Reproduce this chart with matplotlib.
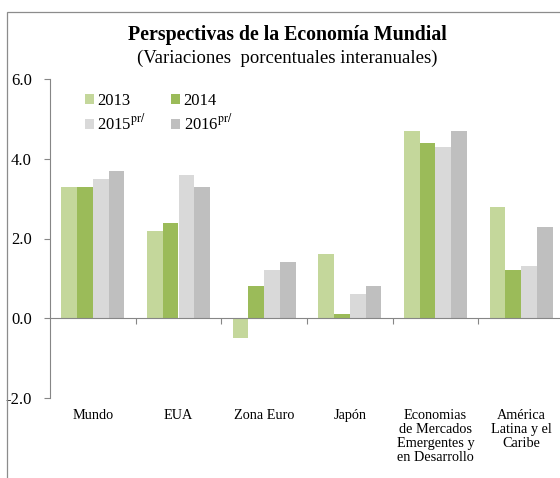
import numpy as np
import matplotlib
matplotlib.use("Agg")
import matplotlib.pyplot as plt
from matplotlib.patches import Rectangle

# === DATA ===
categories = ["Mundo", "EUA", "Zona Euro", "Japón",
              "Economias\nde Mercados\nEmergentes y\nen Desarrollo",
              "América\nLatina y el\nCaribe"]
series_names = ["2013", "2014", "2015$^{\\mathrm{pr/}}$", "2016$^{\\mathrm{pr/}}$"]
vals_2013 = [3.3, 2.2, -0.5, 1.6, 4.7, 2.8]
vals_2014 = [3.3, 2.4, 0.8, 0.1, 4.4, 1.2]
vals_2015 = [3.5, 3.6, 1.2, 0.6, 4.3, 1.3]
vals_2016 = [3.7, 3.3, 1.4, 0.8, 4.7, 2.3]
yticks = [-2.0, 0.0, 2.0, 4.0, 6.0]

# === STYLE ===
plt.rcParams["font.family"] = ["Liberation Serif", "DejaVu Serif"]
plt.rcParams["mathtext.fontset"] = "stix"
colors = ["#C4D79B", "#9BBB59", "#D9D9D9", "#BFBFBF"]
axis_gray = "#868686"

fig = plt.figure(figsize=(5.6, 4.78), dpi=100)

# outer frame (cut off at right and bottom like the original)
fig.patches.append(Rectangle((7 / 560, -0.1), 1.2, 1.1 - 12 / 478,
                             transform=fig.transFigure, fill=False,
                             edgecolor="#8c8c8c", linewidth=0.9))

ax = fig.add_axes([50 / 560, 1 - 398 / 478, 514 / 560, 319 / 478])

x = np.arange(len(categories))
w = 0.184
all_vals = [vals_2013, vals_2014, vals_2015, vals_2016]
bars = []
for i, (vals, name, c) in enumerate(zip(all_vals, series_names, colors)):
    bars.append(ax.bar(x + (i - 1.5) * w, vals, width=w, color=c,
                       label=name, linewidth=0))

ax.set_xlim(-0.5, len(categories) - 0.5)
ax.set_ylim(-2, 6)
ax.set_yticks(yticks)
ax.set_yticklabels([f"{v:.1f}" for v in yticks], fontsize=12)
ax.tick_params(axis="y", length=4, width=0.8, color=axis_gray, pad=9)

for s in ["top", "right"]:
    ax.spines[s].set_visible(False)
ax.spines["left"].set_color(axis_gray)
ax.spines["bottom"].set_color(axis_gray)
ax.spines["bottom"].set_position(("data", 0))

# category boundary ticks on the zero line
ax.set_xticks(x)
ax.set_xticklabels([])
ax.tick_params(axis="x", which="major", length=0)
ax.set_xticks(np.arange(0.5, len(categories) - 0.5, 1), minor=True)
ax.tick_params(axis="x", which="minor", length=4, width=0.8, color=axis_gray)

for xi, lab in zip(x, categories):
    ax.text(xi, -0.036, lab, transform=ax.get_xaxis_transform(),
            ha="center", va="top", fontsize=10.3, linespacing=1.07)

# row-wise legend: 2013, 2014 / 2015, 2016
order = [0, 2, 1, 3]
ax.legend([bars[k] for k in order], [series_names[k] for k in order],
          loc="upper left", bbox_to_anchor=(0.068, 0.955), ncol=2,
          frameon=False, fontsize=12, handlelength=0.55, handleheight=0.55,
          handletextpad=0.2, columnspacing=1.5, labelspacing=0.25,
          borderpad=0, borderaxespad=0)

fig.text(287 / 560, 1 - 35 / 478, "Perspectivas de la Economía Mundial",
         ha="center", va="center", fontsize=14.3, fontweight="bold")
fig.text(287 / 560, 1 - 58 / 478, "(Variaciones  porcentuales interanuales)",
         ha="center", va="center", fontsize=13.5)

fig.savefig("out.png", dpi=100)
